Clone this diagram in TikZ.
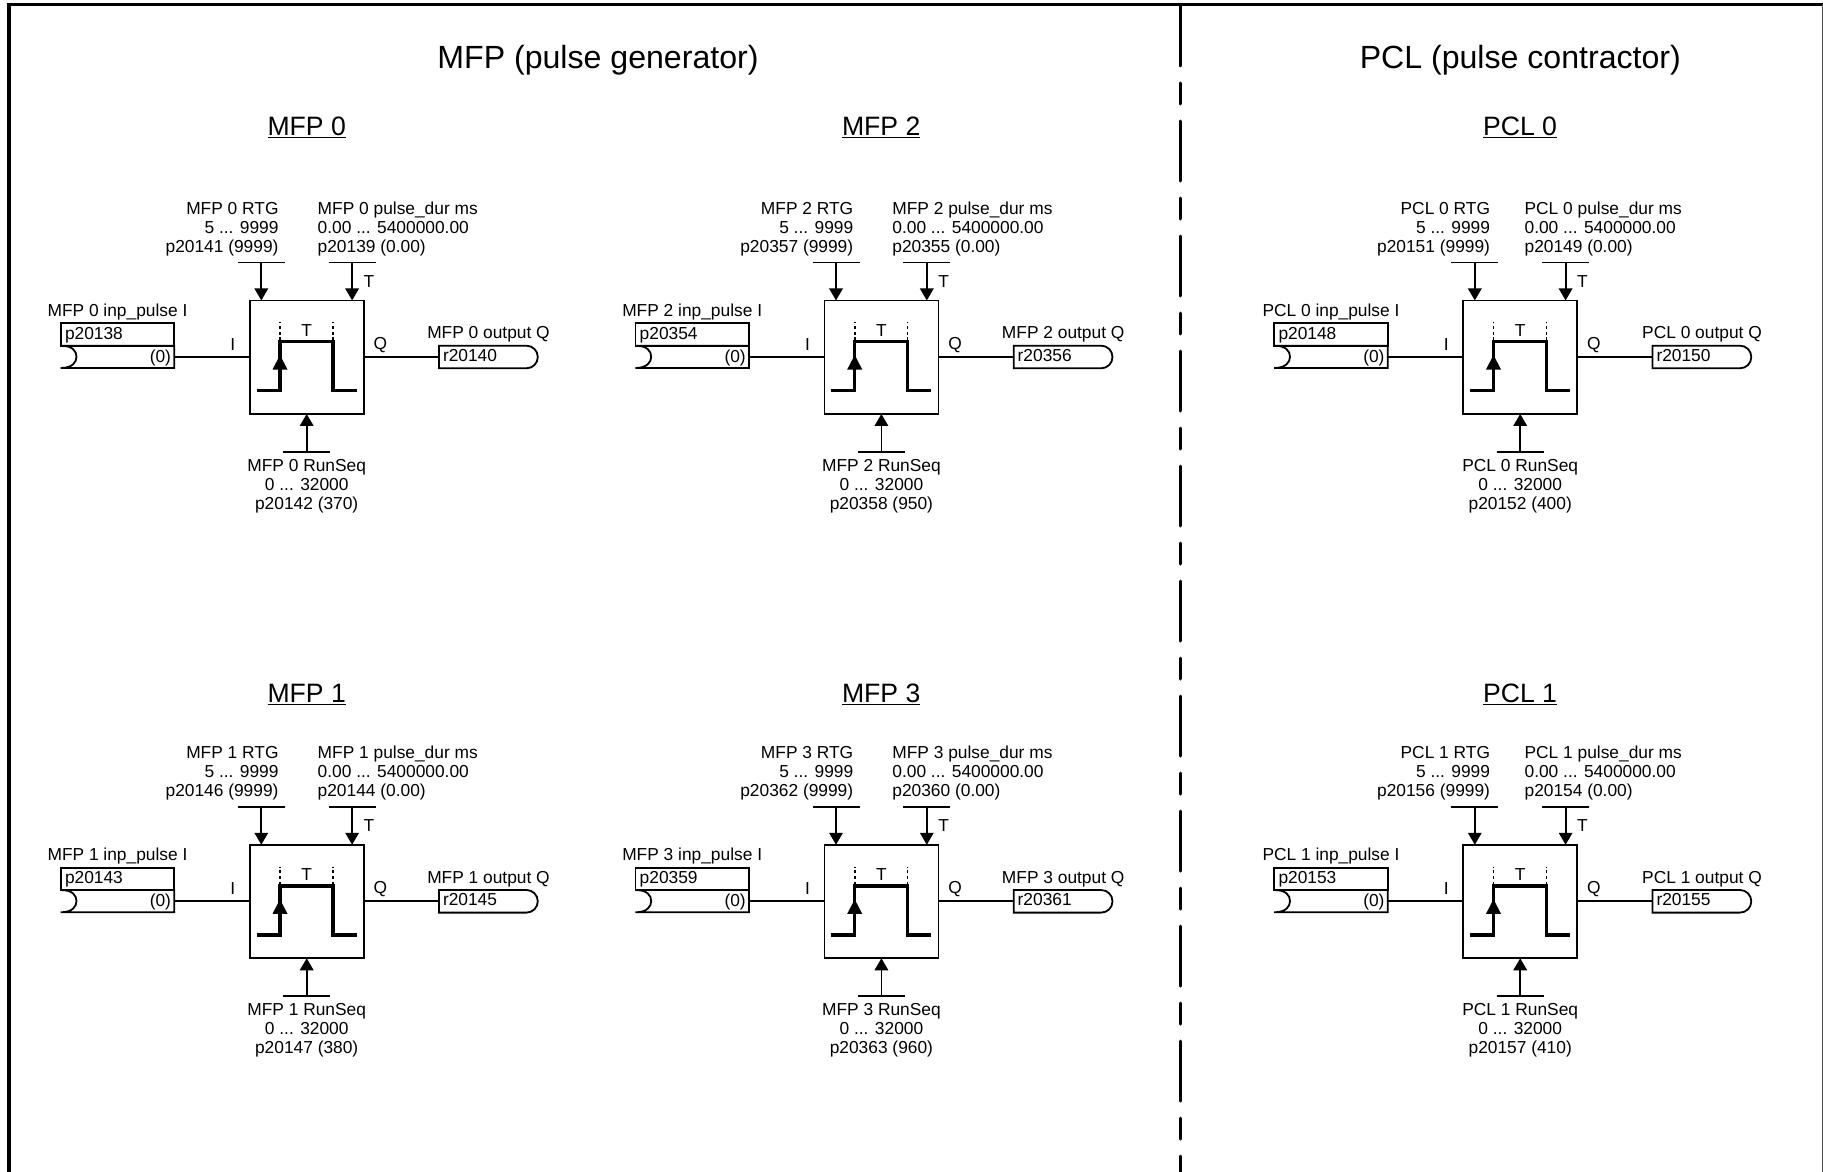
\documentclass[tikz,border=0pt]{standalone}
\usepackage{fontspec}
\setmainfont{Liberation Sans}
\usetikzlibrary{arrows.meta}
\tikzset{
  x=1pt,y=-1pt,
  txt/.style={inner sep=0pt,outer sep=0pt,font=\fontsize{17.35}{19}\selectfont},
  line/.style={draw=black,line width=1.8pt},
  arr/.style={line,-{Triangle[length=12pt,width=13.5pt]},shorten >=0pt},
  pulseline/.style={line width=3.4pt,line join=miter},
  dots/.style={line width=1.6pt,dash pattern=on 3pt off 2.6pt},
  frame/.style={line width=3.4pt},
  sep/.style={line width=3pt,line cap=round,dash pattern=on 60pt off 17pt on 21pt off 17pt},
  hd/.style={inner sep=0pt,outer sep=0pt,font=\fontsize{26.6}{30}\selectfont},
  title/.style={inner sep=0pt,outer sep=0pt,font=\fontsize{32.1}{36}\selectfont},
  ubar/.style={line width=1.7pt},
}
\def\rtgx{-28}
\def\durx{11.2}
% #1 id, #2 label, #3 cx, #4 dy, #5 input p, #6 output r, #7 rtg p, #8 dur p, #9 runseq line
\newcommand{\pulseblock}[9]{%
\begin{scope}[shift={(#3,#4)}]
  \node[line,minimum width=114pt,minimum height=113.5pt,inner sep=0pt,outer sep=0pt] (#1b) at (0.2,357.2) {};
  % pulse symbol
  \coordinate (#1l) at (-50,390.7);
  \coordinate (#1r) at (-26.5,341.7);
  \coordinate (#1f) at (26.3,341.7);
  \coordinate (#1e) at (50,390.7);
  \draw[pulseline] (#1l) -- (#1l -| #1r) -- (#1r) -- (#1f) -- (#1f |- #1e) -- (#1e);
  \draw[dots] (#1r) ++(0,-1.5) -- ++(0,-18);
  \draw[dots] (#1f) ++(0,-1.5) -- ++(0,-18);
  \fill (-26.5,355) -- (-19,369.5) -- (-34,369.5) -- cycle;
  \node[txt,anchor=base] (#1tt) at (0.2,336.5) {T};
  % top parameters
  \coordinate (#1ra) at (-45.2,262.6);
  \coordinate (#1da) at (45.6,262.6);
  \draw[ubar] (#1ra) ++(-23.5,0) -- ++(47,0);
  \draw[ubar] (#1da) ++(-23.5,0) -- ++(47,0);
  \draw[arr] (#1ra) -- (#1ra |- #1b.north);
  \draw[arr] (#1da) -- (#1da |- #1b.north);
  \node[txt,anchor=base] (#1tl) at (62.5,287.4) {T};
  \node[txt,anchor=base east] (#1rt1) at (\rtgx,214.1) {#2 RTG};
  \node[txt,anchor=base east] (#1rt2) at (\rtgx,233.1) {5 ... 9999};
  \node[txt,anchor=base east] (#1rt3) at (\rtgx,252.1) {#7 (9999)};
  \node[txt,anchor=base west] (#1du1) at (\durx,214.1) {#2 pulse\_dur ms};
  \node[txt,anchor=base west] (#1du2) at (\durx,233.1) {0.00 ... 5400000.00};
  \node[txt,anchor=base west] (#1du3) at (\durx,252.1) {#8 (0.00)};
  % bottom parameter
  \coordinate (#1sa) at (0.2,451.7);
  \draw[ubar] (#1sa) ++(-23.5,0) -- ++(47,0);
  \draw[arr] (#1sa) -- (#1b.south);
  \node[txt,anchor=base] (#1s1) at (0.2,471.5) {#2 RunSeq};
  \node[txt,anchor=base] (#1s2) at (0.2,490.5) {0 ... 32000};
  \node[txt,anchor=base] (#1s3) at (0.2,509.5) {#9};
  % input
  \node[line,minimum width=113.6pt,minimum height=22.4pt,inner sep=0pt,outer sep=0pt] (#1p) at (-189,334.5) {};
  \node[txt,anchor=base west] (#1pt) at (-241.5,339) {#5};
  \node[txt,anchor=base] (#1pl) at (-189,316.5) {#2 inp\_pulse I};
  \node[txt,anchor=base east] (#1z) at (-135.5,362.6) {(0)};
  \coordinate (#1in) at (-132.2,356.7);
  \draw[line] (-245.8,345.7) -- (-132.2,345.7) -- (-132.2,368) -- (-245.8,368)
     .. controls (-234,368) and (-230,362) .. (-230,356.8)
     .. controls (-230,351) and (-234,345.7) .. (-245.8,345.7);
  \draw[line] (#1in) -- (#1in -| #1b.west);
  \node[txt,anchor=base] (#1il) at (-73.8,350.5) {I};
  % output
  \coordinate (#1out) at (132.5,356.9);
  \draw[line] (#1b.east |- #1out) -- (#1out);
  \draw[line] (132.5,345.7) -- (220,345.7) arc[start angle=-90,end angle=90,radius=11.3,y=-1pt,x=1pt] -- (132.5,368.3) -- cycle;
  \node[txt,anchor=base west] (#1ot) at (136.5,361.4) {#6};
  \node[txt,anchor=base] (#1ol) at (182,338.8) {#2 output Q};
  \node[txt,anchor=base] (#1q) at (73.9,349) {Q};
\end{scope}}
\newcommand{\heading}[4]{%
  \node[hd,anchor=base] (#1) at (#3,#4) {#2};
  \draw[ubar] ([yshift=-2.6pt]#1.base west) -- ([yshift=-2.6pt]#1.base east);}
\begin{document}
\begin{tikzpicture}
\useasboundingbox (0,0) rectangle (1823,1172);
\fill[white] (0,0) rectangle (1823,1172);
% frame
\coordinate (ftl) at (9,4.4);
\coordinate (ftr) at (1823,4.4);
\coordinate (fbl) at (9,1172);
\coordinate (fsb) at (1180,1172);
\coordinate (fst) at (1180,6);
\draw[frame] (fbl) -- (ftl) -- (ftr);
\draw[line width=1pt,black!70] (1822.5,4) -- (1822.5,1172);
\draw[sep] (fst) -- (fsb);
% titles
\node[title,anchor=base] (t1) at (598,68) {MFP (pulse generator)};
\node[title,anchor=base] (t2) at (1520.3,68) {PCL (pulse contractor)};
% headings
\heading{h0}{MFP 0}{306.7}{135}
\heading{h2}{MFP 2}{881.2}{135}
\heading{h4}{PCL 0}{1520}{135}
\heading{h1}{MFP 1}{306.7}{702}
\heading{h3}{MFP 3}{881.2}{702}
\heading{h5}{PCL 1}{1520}{702}
% blocks
\pulseblock{a}{MFP 0}{306.5}{0}{p20138}{r20140}{p20141}{p20139}{p20142 (370)}
\pulseblock{b}{MFP 1}{306.5}{544.3}{p20143}{r20145}{p20146}{p20144}{p20147 (380)}
\pulseblock{c}{MFP 2}{881.2}{0}{p20354}{r20356}{p20357}{p20355}{p20358 (950)}
\pulseblock{d}{MFP 3}{881.2}{544.3}{p20359}{r20361}{p20362}{p20360}{p20363 (960)}
\def\rtgx{-30}
\def\durx{4.6}
\pulseblock{e}{PCL 0}{1520}{0}{p20148}{r20150}{p20151}{p20149}{p20152 (400)}
\pulseblock{f}{PCL 1}{1520}{544.3}{p20153}{r20155}{p20156}{p20154}{p20157 (410)}
\end{tikzpicture}
\end{document}
